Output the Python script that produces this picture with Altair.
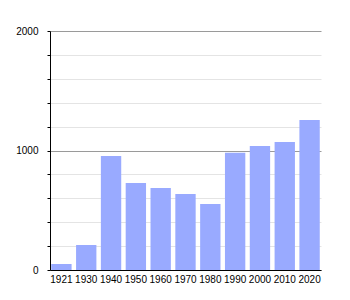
import altair as alt
import pandas as pd

years = ["1921", "1930", "1940", "1950", "1960", "1970", "1980", "1990", "2000", "2010", "2020"]
population = [50, 209, 954, 728, 686, 636, 552, 982, 1038, 1071, 1255]

df = pd.DataFrame({"year": years, "pop": population})

font = "Liberation Sans"

chart = alt.Chart(df).mark_bar(color="#99aaff").encode(
    x=alt.X("year:N", sort=years, title=None,
            scale=alt.Scale(paddingInner=0.18, paddingOuter=0.05),
            axis=alt.Axis(labelAngle=0, ticks=False, domainColor="#000000",
                          labelFont=font, labelFontSize=10, labelColor="#000000",
                          labelPadding=4, grid=False)),
    y=alt.Y("pop:Q", title=None,
            scale=alt.Scale(domain=[0, 2000], nice=False),
            axis=alt.Axis(values=list(range(0, 2001, 200)),
                          labelExpr="datum.value % 1000 === 0 ? datum.label : ''",
                          format="d",
                          tickColor="#000000", tickSize=3, domainColor="#000000",
                          labelFont=font, labelFontSize=10, labelColor="#000000",
                          labelPadding=9,
                          gridColor={"condition": {"test": "datum.value % 1000 === 0", "value": "#9a9a9a"}, "value": "#e4e4e4"})),
).properties(
    width=271,
    height=239,
    autosize=alt.AutoSizeParams(type="none"),
    padding={"left": 50, "top": 31, "right": 29, "bottom": 30},
).configure_view(stroke=None).configure_axis(domainWidth=1)

chart.save("out.html", embed_options={"renderer": "svg", "actions": False})
